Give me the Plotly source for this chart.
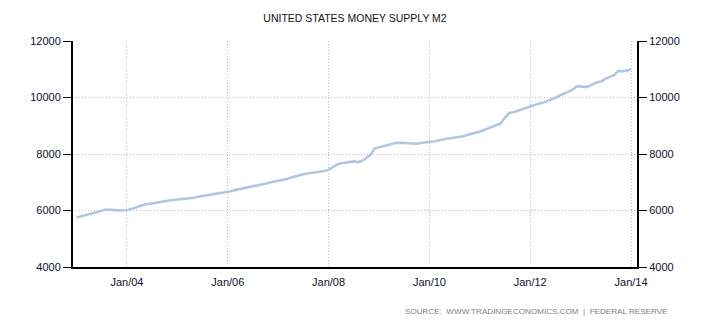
import pandas as pd
import plotly.graph_objects as go

# Monthly M2 money stock (USD billions), Jan 2003 .. Jan 2014
m2_2003 = [5755, 5790, 5825, 5860, 5900, 5945, 5995, 6035, 6025, 6010, 6005, 6010]
m2_2004 = [6010, 6050, 6100, 6150, 6205, 6225, 6245, 6270, 6300, 6330, 6355, 6370]
m2_2005 = [6380, 6390, 6400, 6420, 6450, 6485, 6515, 6540, 6565, 6590, 6615, 6635]
m2_2006 = [6650, 6690, 6730, 6760, 6790, 6815, 6840, 6870, 6900, 6950, 6990, 7015]
m2_2007 = [7040, 7075, 7110, 7160, 7205, 7245, 7285, 7310, 7330, 7345, 7360, 7400]
m2_2008 = [7445, 7540, 7620, 7670, 7690, 7710, 7740, 7715, 7760, 7860, 7980, 8200]
m2_2009 = [8230, 8270, 8310, 8350, 8390, 8400, 8395, 8380, 8370, 8365, 8390, 8420]
m2_2010 = [8435, 8440, 8480, 8515, 8540, 8560, 8580, 8595, 8630, 8670, 8710, 8740]
m2_2011 = [8800, 8850, 8900, 8950, 9000, 9080, 9280, 9450, 9480, 9530, 9580, 9640]
m2_2012 = [9690, 9740, 9780, 9810, 9860, 9920, 9990, 10070, 10150, 10200, 10270, 10390]
m2_2013 = [10400, 10370, 10400, 10480, 10540, 10570, 10670, 10730, 10790, 10940, 10930, 10950]
m2_2014 = [11000]

m2_values = (m2_2003 + m2_2004 + m2_2005 + m2_2006 + m2_2007 + m2_2008 +
             m2_2009 + m2_2010 + m2_2011 + m2_2012 + m2_2013 + m2_2014)
months = pd.date_range("2003-01-01", periods=len(m2_values), freq="MS")

x_ticks = ["2004-01-01", "2006-01-01", "2008-01-01", "2010-01-01", "2012-01-01", "2014-01-01"]
x_tick_labels = ["Jan/04", "Jan/06", "Jan/08", "Jan/10", "Jan/12", "Jan/14"]
y_ticks = [4000, 6000, 8000, 10000, 12000]

title_text = "UNITED STATES MONEY SUPPLY M2"
source_text = "SOURCE:  WWW.TRADINGECONOMICS.COM  |  FEDERAL RESERVE"

line_color = "#B3C6E0"
grid_color = "#BDBDBD"
grid_dash = "1px,2px"
label_font = dict(family="Liberation Sans, Arial, sans-serif", size=11, color="#101030")

fig = go.Figure()
fig.add_trace(go.Scatter(
    x=months, y=m2_values, mode="lines",
    line=dict(color=line_color, width=2.6),
    showlegend=False, hoverinfo="x+y",
))
# Same series on the right-hand axis so it carries its own ticks
fig.add_trace(go.Scatter(
    x=months, y=m2_values, mode="lines", yaxis="y2",
    line=dict(color="rgba(0,0,0,0)", width=0),
    showlegend=False, hoverinfo="skip",
))

y_range = [4000, 12000]
fig.update_layout(
    width=710, height=325,
    margin=dict(l=73, r=73, t=41, b=58),
    paper_bgcolor="white", plot_bgcolor="white",
    title=dict(text=title_text, x=0.5, xanchor="center", y=0.945, yanchor="middle",
               font=dict(family="Liberation Sans, Arial, sans-serif", size=10.5, color="#111111")),
    xaxis=dict(
        type="date", range=["2002-12-06", "2014-02-13"],
        tickvals=x_ticks, ticktext=x_tick_labels,
        showgrid=True, gridcolor=grid_color, griddash=grid_dash, gridwidth=1,
        showline=True, linecolor="black", linewidth=2,
        ticks="outside", ticklen=4, tickcolor="rgba(0,0,0,0)",
        tickfont=label_font, zeroline=False,
    ),
    yaxis=dict(
        range=y_range, tickvals=y_ticks, ticktext=[str(v) for v in y_ticks],
        showgrid=True, gridcolor=grid_color, griddash=grid_dash, gridwidth=1,
        showline=True, linecolor="black", linewidth=2,
        ticks="outside", ticklen=8, tickcolor="black", tickwidth=1,
        tickfont=label_font, zeroline=False,
    ),
    yaxis2=dict(
        overlaying="y", side="right", range=y_range,
        tickvals=y_ticks, ticktext=[str(v) for v in y_ticks],
        showgrid=False, showline=True, linecolor="black", linewidth=2,
        ticks="outside", ticklen=8, tickcolor="black", tickwidth=1,
        tickfont=label_font, zeroline=False,
    ),
    annotations=[dict(
        text=source_text, xref="paper", yref="paper",
        x=(670 - 73) / (710 - 146), y=-(311 - 267) / (325 - 99),
        xanchor="right", yanchor="middle", showarrow=False,
        font=dict(family="Liberation Sans, Arial, sans-serif", size=8.1, color="#808080"),
    )],
)

fig.write_html("out.html")
